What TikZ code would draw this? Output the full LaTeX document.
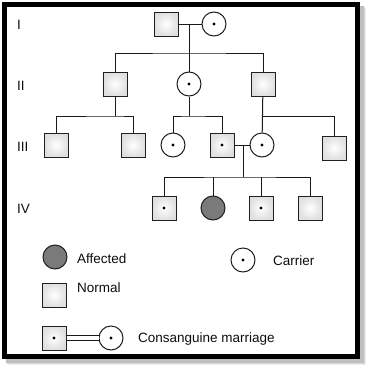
\documentclass[tikz,border=0pt]{standalone}
\usepackage{fontspec}
\setmainfont{Liberation Sans}
\usepackage{tikz}

\begin{document}
\begin{tikzpicture}[x=1pt,y=-1pt,font=\fontsize{13.5}{16}\selectfont,
		sym/.style={draw=gray!25!black,line width=1pt,minimum size=24pt,inner sep=0pt},
		male/.style={sym,rectangle,shading=radial,inner color=white,outer color=gray!25},
		female/.style={sym,circle,fill=white},
		affected/.style={sym,circle,fill=gray!70!black!80},
		carrier/.style={path picture={\fill[black] (path picture bounding box.center) circle (1.7pt);}},
		link/.style={draw=gray!20!black,line width=1pt},
		gen/.style={anchor=base west,inner sep=0pt,text=gray!10!black},
		legend/.style={anchor=base west,inner sep=0pt,text=gray!10!black}]
			\useasboundingbox (0,0) rectangle (369,367);
			% frame with its shadow
			\foreach \s/\c in {6/gray!15,5/gray!30,4/gray!50}
				\fill[\c] (2+\s,2+\s) rectangle (360+\s,359+\s);
			\draw[line width=5pt,fill=white] (4.5,4.5) rectangle (357.5,356.5);
			% generations
			\node[gen] (gI) at (17,29) {I};
			\node[gen] (gII) at (17,90) {II};
			\node[gen] (gIII) at (17,151) {III};
			\node[gen] (gIV) at (17,213) {IV};
			% I
			\node[male] (Ia) at (166,24) {};
			\node[female,carrier] (Ib) at (214,24) {};
			\coordinate (mI) at (189,24);
			\coordinate (sI) at (189,53);
			\draw[link] (Ia) -- (Ib);
			\draw[link] (mI) -- (sI);
			% II
			\node[male] (IIa) at (115,84) {};
			\node[female,carrier] (IIb) at (189,84) {};
			\node[male] (IIc) at (263,84) {};
			\draw[link] (IIa) |- (sI) -| (IIc);
			\draw[link] (sI) -- (IIb);
			% III
			\node[male] (IIIa) at (56,145) {};
			\node[male] (IIIb) at (133,145) {};
			\node[female,carrier] (IIIc) at (173,145) {};
			\node[male,carrier] (IIId) at (222,145) {};
			\node[female,carrier] (IIIe) at (262,145) {};
			\node[male] (IIIf) at (334,148) {};
			\coordinate (sIIa) at (115,116);
			\coordinate (sIIb) at (189,116);
			\coordinate (sIIc) at (263,116);
			\draw[link] (IIa) -- (sIIa);
			\draw[link] (IIIa) |- (sIIa) -| (IIIb);
			\draw[link] (IIb) -- (sIIb);
			\draw[link] (IIIc) |- (sIIb) -| (IIId);
			\draw[link] (IIc) -- (IIIe);
			\draw[link] (sIIc) -| (IIIf);
			% IV
			\node[male,carrier] (IVa) at (164,208) {};
			\node[affected] (IVb) at (213,208) {};
			\node[male,carrier] (IVc) at (261,208) {};
			\node[male] (IVd) at (310,208) {};
			\coordinate (mIII) at (243,145);
			\coordinate (sIII) at (243,177);
			\draw[link] (IIId) -- (IIIe);
			\draw[link] (mIII) -- (sIII);
			\draw[link] (IVa) |- (sIII) -| (IVd);
			\draw[link] (IVb) -- (IVb |- sIII);
			\draw[link] (IVc) -- (IVc |- sIII);
			% legend
			\node[affected] (kA) at (55,257) {};
			\node[legend] (tA) at (77,263) {Affected};
			\node[female,carrier] (kC) at (243,260) {};
			\node[legend] (tC) at (273,265) {Carrier};
			\node[male] (kN) at (54,295) {};
			\node[legend] (tN) at (77,292) {Normal};
			\node[male,carrier] (kMa) at (54,338) {};
			\node[female,carrier] (kMb) at (111,338) {};
			\draw[link,double distance=3.5pt,line width=0.9pt] (kMa) -- (kMb);
			\node[legend] (tM) at (138,342) {Consanguine marriage};
		\end{tikzpicture}
\end{document}
